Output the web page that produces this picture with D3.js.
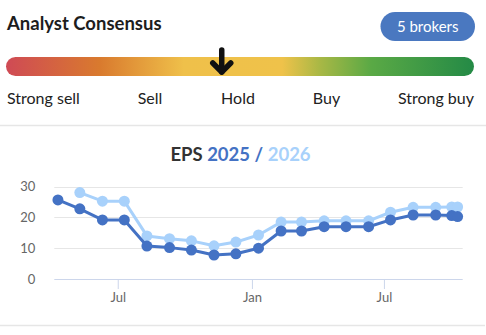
<!DOCTYPE html>
<html>
<head>
<meta charset="utf-8">
<script src="https://cdn.jsdelivr.net/npm/d3@7"></script>
<style>
  html, body { margin: 0; padding: 0; background: #fff; }
  svg { display: block; font-family: Lato, "Open Sans", sans-serif; }
</style>
</head>
<body>
<svg id="chart" width="486" height="335"></svg>
<script>
// Consensus scale
const ratingLabels = ["Strong sell", "Sell", "Hold", "Buy", "Strong buy"];
const consensusPosition = 0.461;   // share of the bar, from strong sell to strong buy
const brokerCount = 5;

// EPS estimate history
const dates = ["2024-04-10", "2024-05-10", "2024-06-10", "2024-07-10", "2024-08-10",
  "2024-09-10", "2024-10-10", "2024-11-10", "2024-12-10", "2025-01-10", "2025-02-10",
  "2025-03-10", "2025-04-10", "2025-05-10", "2025-06-10", "2025-07-10", "2025-08-10",
  "2025-09-10", "2025-10-02", "2025-10-10"];
const eps2025 = [25.7, 22.8, 19.2, 19.2, 10.7, 10.2, 9.4, 7.8, 8.2, 10.0, 15.6,
  15.6, 17.0, 17.0, 17.0, 19.2, 20.8, 20.8, 20.6, 20.3];
const eps2026 = [null, 28.1, 25.3, 25.3, 14.0, 13.1, 12.4, 10.8, 12.0, 14.3, 18.5,
  18.5, 18.9, 18.9, 18.9, 21.7, 23.3, 23.3, 23.4, 23.4];
const yTicks = [0, 10, 20, 30];

const svg = d3.select("#chart");
const parse = d3.timeParse("%Y-%m-%d");

// ---------- Consensus header ----------
svg.append("text").attr("x", 7).attr("y", 29.5)
  .attr("font-size", 18.5).attr("font-weight", 700).attr("fill", "#1d1d1d")
  .text("Analyst Consensus");

const badge = svg.append("g");
badge.append("rect").attr("x", 380.5).attr("y", 12).attr("width", 94.5).attr("height", 29)
  .attr("rx", 14.5).attr("fill", "#4a78c0");
badge.append("text").attr("x", 427.7).attr("y", 32).attr("text-anchor", "middle")
  .attr("font-size", 15).attr("fill", "#fff")
  .text(brokerCount + " brokers");

const defs = svg.append("defs");
const grad = defs.append("linearGradient").attr("id", "consensusGrad");
[[0, "#cf4a55"], [0.2, "#d97a2e"], [0.38, "#efc04a"], [0.59, "#efc24a"],
 [0.67, "#a9b845"], [0.78, "#5aa945"], [1, "#248a46"]]
  .forEach(([o, c]) => grad.append("stop").attr("offset", o).attr("stop-color", c));

const barX0 = 6, barX1 = 474;
svg.append("rect").attr("x", barX0).attr("y", 57).attr("width", barX1 - barX0).attr("height", 19)
  .attr("rx", 9.5).attr("fill", "url(#consensusGrad)");

// consensus marker
const barScale = d3.scaleLinear().domain([0, 1]).range([barX0, barX1]);
const ax = barScale(consensusPosition);
const arrow = svg.append("g").attr("stroke", "#111").attr("fill", "none")
  .attr("stroke-linecap", "round").attr("stroke-linejoin", "round");
arrow.append("line").attr("x1", ax).attr("x2", ax).attr("y1", 50).attr("y2", 72)
  .attr("stroke-width", 5.5);
arrow.append("path").attr("d", `M${ax - 9},${63} L${ax},${72} L${ax + 9},${63}`)
  .attr("stroke-width", 5.5);

const labelX = [7, 150, 238, 326.5, 474];
const anchors = ["start", "middle", "middle", "middle", "end"];
ratingLabels.forEach((t, i) => {
  svg.append("text").attr("x", labelX[i]).attr("y", 104)
    .attr("text-anchor", anchors[i]).attr("font-size", 16).attr("fill", "#222")
    .text(t);
});

svg.append("line").attr("x1", 0).attr("x2", 486).attr("y1", 125.5).attr("y2", 125.5)
  .attr("stroke", "#e6e6e6").attr("stroke-width", 1.5);
svg.append("line").attr("x1", 0).attr("x2", 485).attr("y1", 325.5).attr("y2", 325.5)
  .attr("stroke", "#e6e6e6").attr("stroke-width", 1.5);

// ---------- EPS chart ----------
const title = svg.append("text").attr("x", 240.5).attr("y", 161)
  .attr("text-anchor", "middle").attr("font-size", 18.5).attr("font-weight", 700);
title.append("tspan").attr("fill", "#333").text("EPS ");
title.append("tspan").attr("fill", "#4472c4").text("2025 / ");
title.append("tspan").attr("fill", "#a8d1fb").text("2026");

const plotLeft = 54.3, plotRight = 462.7, plotTop = 186.7, plotBottom = 279;
const parsed = dates.map(parse);
const x = d3.scaleTime()
  .domain([d3.timeDay.offset(d3.min(parsed), -5), d3.timeDay.offset(d3.max(parsed), 7)])
  .range([plotLeft, plotRight]);
const y = d3.scaleLinear().domain([0, 30]).range([plotBottom, plotTop]);

// horizontal gridlines
svg.append("g").selectAll("line").data(yTicks.filter(d => d > 0)).join("line")
  .attr("x1", plotLeft).attr("x2", plotRight)
  .attr("y1", d => Math.round(y(d)) + 0.5).attr("y2", d => Math.round(y(d)) + 0.5)
  .attr("stroke", "#e6e6e6");

// y axis labels
const yAxis = svg.append("g").attr("transform", `translate(${plotLeft},0)`)
  .call(d3.axisLeft(y).tickValues(yTicks).tickSize(0).tickPadding(19));
yAxis.select(".domain").remove();
yAxis.selectAll("text").attr("font-size", 13).attr("fill", "#666")
  .attr("font-family", "Lato, sans-serif");

// x axis
const xTickDates = [parse("2024-07-01"), parse("2025-01-01"), parse("2025-07-01")];
const xAxis = svg.append("g").attr("transform", `translate(0,${plotBottom})`)
  .call(d3.axisBottom(x).tickValues(xTickDates).tickSize(10).tickPadding(4)
    .tickFormat(d3.timeFormat("%b")));
xAxis.select(".domain").attr("d", `M${plotLeft},0.5H${plotRight}`).attr("stroke", "#ccd6eb");
xAxis.selectAll(".tick line").attr("stroke", "#ccd6eb");
xAxis.selectAll("text").attr("font-size", 13).attr("fill", "#666")
  .attr("font-family", "Lato, sans-serif");

const series = [
  { values: eps2026, color: "#a8d1fb" },
  { values: eps2025, color: "#4472c4" }
];
const line = d3.line().defined(d => d.v != null).x(d => x(d.t)).y(d => y(d.v));
series.forEach(s => {
  const pts = parsed.map((t, i) => ({ t, v: s.values[i] }));
  svg.append("path").datum(pts).attr("d", line)
    .attr("fill", "none").attr("stroke", s.color).attr("stroke-width", 3)
    .attr("stroke-linejoin", "round");
  svg.append("g").selectAll("circle").data(pts.filter(d => d.v != null)).join("circle")
    .attr("cx", d => x(d.t)).attr("cy", d => y(d.v)).attr("r", 5.5)
    .attr("fill", s.color);
});
</script>
</body>
</html>
